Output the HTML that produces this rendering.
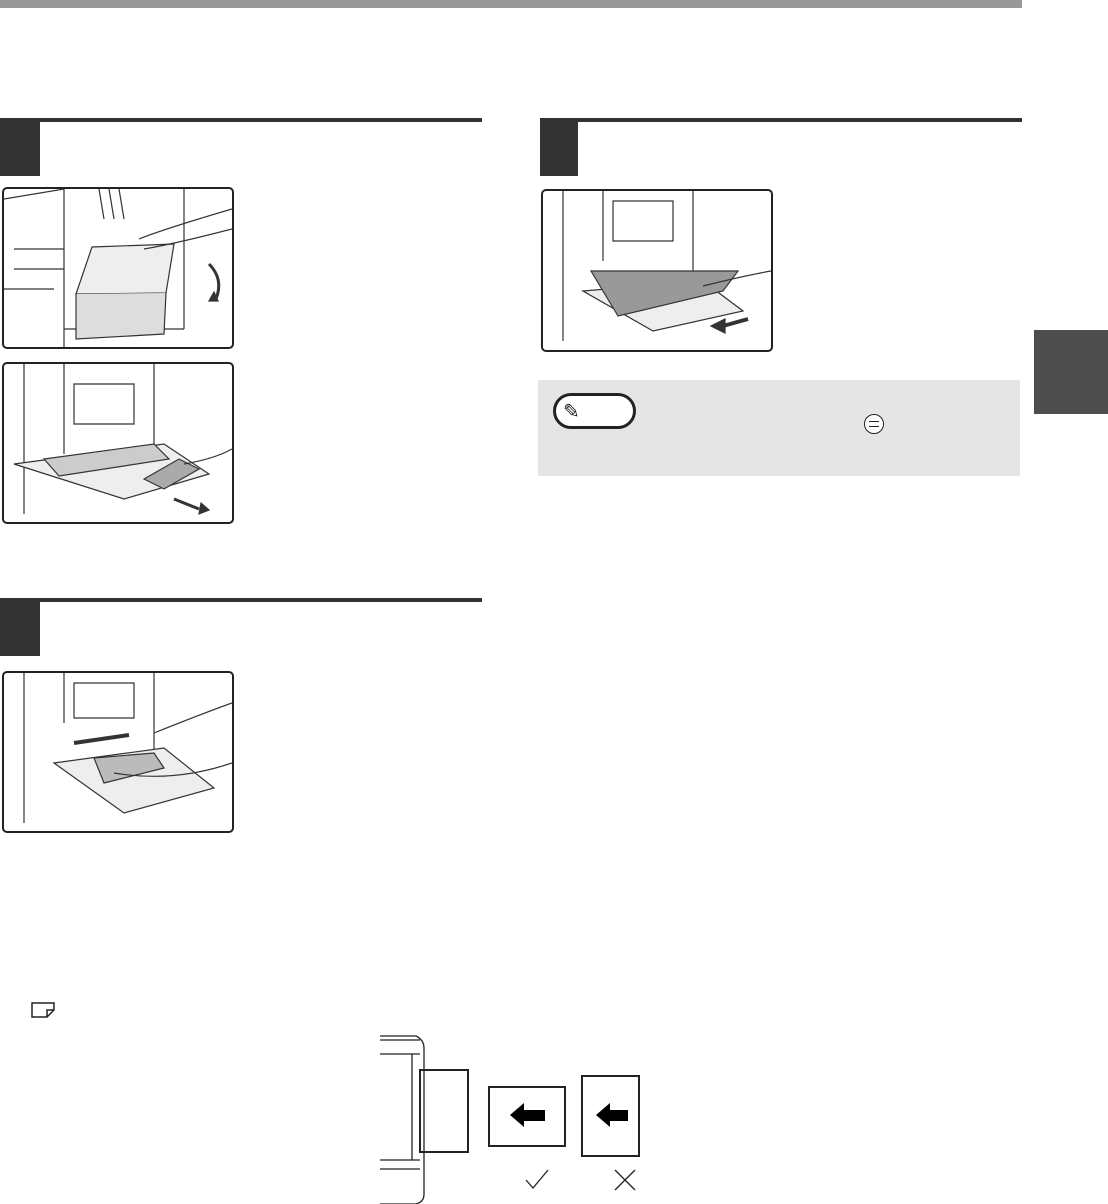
<!DOCTYPE html>
<html><head><meta charset="utf-8"><style>
body{margin:0;width:1108px;height:1204px;background:#fff;position:relative;overflow:hidden;font-family:"Liberation Sans",sans-serif}
div{position:absolute;box-sizing:border-box}
.ill{border:2px solid #222;border-radius:5px;background:#fff;overflow:hidden}
</style></head><body>
<div style="left:0;top:0;width:1022px;height:8px;background:#999"></div>
<div style="left:0;top:118px;width:482px;height:4px;background:#333"></div>
<div style="left:0;top:118px;width:40px;height:58px;background:#333"></div>
<div style="left:540px;top:118px;width:482px;height:4px;background:#333"></div>
<div style="left:540px;top:118px;width:38px;height:58px;background:#333"></div>
<div style="left:0;top:598px;width:482px;height:4px;background:#333"></div>
<div style="left:0;top:598px;width:40px;height:58px;background:#333"></div>
<div style="left:1034px;top:330px;width:74px;height:84px;background:#4d4d4d"></div>

<div class="ill" style="left:2px;top:187px;width:232px;height:162px">
<svg width="228" height="158"><g fill="none" stroke="#333" stroke-width="1.2">
<path d="M0 10 L60 0 M60 0 V158 M180 0 V140 M60 140 H180"/><path d="M10 60 H60 M10 80 H60 M0 100 H50"/>
<path d="M95 0 L100 30 M105 0 L110 30 M115 0 L120 30"/><path d="M72 105 L88 58 L170 55 L162 104 Z" fill="#eee"/>
<path d="M72 105 V150 L160 145 L162 104" fill="#ddd"/><path d="M135 50 Q160 40 228 20 M140 60 Q170 55 228 40"/>
<path d="M205 75 Q220 90 212 110" stroke-width="3"/><path d="M205 112 L214 112 L210 103Z" fill="#333"/></g></svg></div>
<div class="ill" style="left:2px;top:362px;width:232px;height:162px">
<svg width="228" height="158"><g fill="none" stroke="#333" stroke-width="1.2">
<path d="M20 0 V150 M150 0 V100 M60 0 V90 M70 20 H130 V60 H70Z"/><path d="M10 100 L160 80 L205 110 L120 135 Z" fill="#eee"/>
<path d="M40 95 L150 80 L165 95 L55 112Z" fill="#ccc"/><path d="M140 115 L175 95 L195 105 L160 125Z" fill="#aaa"/>
<path d="M180 100 Q210 95 228 85"/><path d="M170 135 L195 145" stroke-width="3"/><path d="M195 150 L205 146 L197 139Z" fill="#333"/></g></svg></div>
<div class="ill" style="left:2px;top:671px;width:232px;height:162px">
<svg width="228" height="158"><g fill="none" stroke="#333" stroke-width="1.2">
<path d="M20 0 V150 M150 0 V100 M60 0 V50 M70 10 H130 V45 H70Z"/><path d="M50 90 L160 75 L210 115 L120 140 Z" fill="#eee"/>
<path d="M70 70 L125 62" stroke-width="4"/><path d="M90 85 L150 80 L160 95 L100 110Z" fill="#bbb"/>
<path d="M150 60 Q200 40 228 30 M110 100 Q170 110 228 90"/></g></svg></div>
<div class="ill" style="left:541px;top:189px;width:232px;height:163px">
<svg width="228" height="159"><g fill="none" stroke="#333" stroke-width="1.2">
<path d="M20 0 V150 M150 0 V90 M60 0 V70 M70 10 H130 V50 H70Z"/><path d="M40 100 L160 90 L200 120 L110 140Z" fill="#eee"/>
<path d="M48 80 L195 80 L180 100 L75 125 Z" fill="#999"/><path d="M160 95 Q200 85 228 80"/>
<path d="M205 128 L180 135" stroke-width="4"/><path d="M168 135 L182 128 L182 142Z" fill="#333"/></g></svg></div>

<div style="left:538px;top:380px;width:482px;height:96px;background:#e5e5e5"></div>
<div style="left:553px;top:393px;width:83px;height:36px;border:3px solid #222;border-radius:18px;background:#fff"></div>
<div style="left:563px;top:399px;font-size:20px;color:#222">✎</div>
<div style="left:864px;top:414px;width:20px;height:20px;border:1.5px solid #222;border-radius:50%;background:#fff"></div>
<div style="left:869px;top:421px;width:10px;height:6px;border-top:1px solid #222;border-bottom:1px solid #222"></div>

<svg style="position:absolute;left:30px;top:1001px" width="28" height="18"><path d="M2 2 H24 V9 L17 16 H2Z M17 16 V9 H24" fill="none" stroke="#222" stroke-width="1.5"/></svg>
<svg style="position:absolute;left:376px;top:1034px" width="300" height="170"><g fill="none" stroke="#222" stroke-width="1.3">
<path d="M4 2 H40 Q48 6 48 14 V160 Q48 168 40 170 H4"/><path d="M4 6 H44 M4 20 H44 M4 126 H44 M4 135 H44 M36 20 V126"/>
<rect x="44" y="36" width="48" height="82" stroke-width="2"/><rect x="113" y="53" width="76" height="59" stroke-width="2"/><rect x="206" y="42" width="57" height="80" stroke-width="2"/>
<path d="M150 146 L157 154 L172 136 M239 136 L259 156 M259 136 L239 156"/></g>
<path d="M134 81 L148 69 V76 H169 V87 H148 V93Z" fill="#000"/><path d="M220 81 L234 69 V76 H252 V87 H234 V93Z" fill="#000"/></svg>
</body></html>
